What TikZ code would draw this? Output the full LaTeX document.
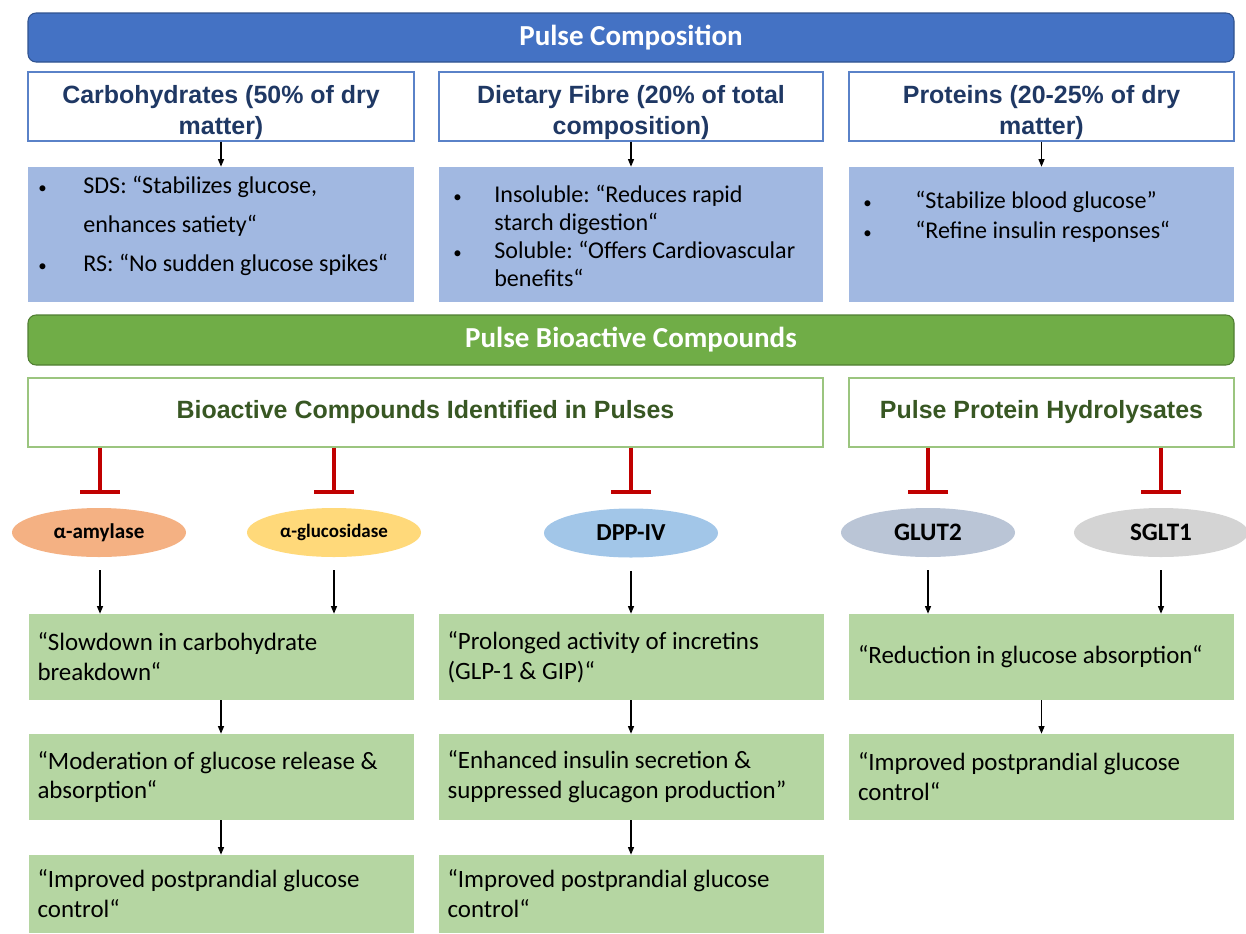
\documentclass[tikz,border=0pt]{standalone}
\usepackage{fontspec}
\setmainfont{Carlito}
\newfontfamily\arialf{Liberation Sans}
\usetikzlibrary{arrows.meta,shapes.geometric}
\frenchspacing
\newdimen\upx \upx=0.02cm
\definecolor{barblue}{HTML}{4472C4}
\definecolor{barbluedk}{HTML}{2F528F}
\definecolor{hdborder}{HTML}{5A82C8}
\definecolor{navy}{HTML}{1F3864}
\definecolor{lblue}{HTML}{A1B8E1}
\definecolor{bargreen}{HTML}{70AD47}
\definecolor{bargreendk}{HTML}{507E32}
\definecolor{gborder}{HTML}{9BC57F}
\definecolor{dgreen}{HTML}{385723}
\definecolor{lgreen}{HTML}{B5D6A2}
\definecolor{inhred}{HTML}{C00000}
\definecolor{amyc}{HTML}{F4B183}
\definecolor{gluc}{HTML}{FFD97A}
\definecolor{dppc}{HTML}{A2C6E8}
\definecolor{glutc}{HTML}{BAC5D6}
\definecolor{sgltc}{HTML}{D4D4D4}
\newcommand{\bul}[1]{\makebox[#1][l]{\scalebox{0.7}{\textbullet}}}
\newcommand{\hstrut}{\rule{0pt}{17pt}}
\begin{document}
\frenchspacing
\begin{tikzpicture}[x=0.02cm,y=-0.02cm,
  bigbar/.style={rounded corners=8\upx, line width=0.6pt, text=white,
    font=\fontsize{16.5}{20}\selectfont\bfseries,
    minimum width=1206\upx, inner sep=0},
  headbox/.style={draw=hdborder, line width=0.6pt, fill=white, minimum height=69\upx,
    align=center, text=navy, inner sep=0,
    font=\arialf\fontsize{14.2}{17.3}\selectfont\bfseries},
  bluebox/.style={fill=lblue, minimum height=135\upx, inner sep=0},
  bodytxt/.style={align=flush left, inner sep=0, text=black},
  ghead/.style={draw=gborder, line width=0.6pt, fill=white, minimum height=69\upx,
    text=dgreen, inner sep=0,
    font=\arialf\fontsize{14.2}{17}\selectfont\bfseries},
  greenbox/.style={fill=lgreen, align=flush left, text width=367\upx, inner xsep=9\upx,
    inner ysep=0, font=\fontsize{14.2}{17}\selectfont},
  enz/.style={ellipse, minimum width=174\upx, minimum height=49\upx, inner sep=0,
    font=\bfseries},
  arr/.style={line width=0.6pt, -{Triangle[length=1.5mm,width=1.2mm]}},
  inh/.style={draw=inhred, line width=2.3pt, -{Bar[width=0.8cm]}}
]
\useasboundingbox (0,0) rectangle (1246,933);

% ---- Pulse composition
\node[bigbar, fill=barblue, draw=barbluedk, minimum height=49\upx] (pc) at (631,37.5) {Pulse Composition};

\node[headbox, minimum width=386\upx] (carbH) at (221,106.5) {\hstrut Carbohydrates (50\% of dry\\matter)};
\node[headbox, minimum width=384\upx] (fibH) at (631,106.5) {\hstrut Dietary Fibre (20\% of total\\composition)};
\node[headbox, minimum width=385\upx] (protH) at (1041.5,106.5) {\hstrut Proteins (20-25\% of dry\\matter)};

\node[bluebox, minimum width=386\upx] (carbB) at (221,234.5) {};
\node[bluebox, minimum width=384\upx] (fibB) at (631,234.5) {};
\node[bluebox, minimum width=385\upx] (protB) at (1041.5,234.5) {};

\node[bodytxt, anchor=west, font=\fontsize{13.7}{22}\selectfont] (carbT) at (38,226)
  {\bul{45\upx}SDS: “Stabilizes glucose,\\\hspace*{45\upx}enhances satiety“\\\bul{45\upx}RS: “No sudden glucose spikes“};
\node[bodytxt, anchor=west, font=\fontsize{13.7}{16}\selectfont] (fibT) at (453,236)
  {\bul{41\upx}Insoluble: “Reduces rapid\\\hspace*{41\upx}starch digestion“\\\bul{41\upx}Soluble: “Offers Cardiovascular\\\hspace*{41\upx}benefits“};
\node[bodytxt, anchor=west, font=\fontsize{13.7}{17}\selectfont] (protT) at (863,217)
  {\bul{52\upx}“Stabilize blood glucose”\\\bul{52\upx}“Refine insulin responses“};

\draw[arr] (carbH.south) -- (carbB.north);
\draw[arr] (fibH.south) -- (fibB.north);
\draw[arr] (protH.south) -- (protB.north);

% ---- Bioactive compounds
\node[bigbar, fill=bargreen, draw=bargreendk, minimum height=50\upx] (pbc) at (631,340) {Pulse Bioactive Compounds};

\node[ghead, minimum width=795\upx] (bcH) at (425.5,412.5) {Bioactive Compounds Identified in Pulses};
\node[ghead, minimum width=385\upx] (pphH) at (1041.5,412.5) {Pulse Protein Hydrolysates};

\node[enz, fill=amyc, font=\bfseries\fontsize{12}{14}\selectfont] (amy) at (99,532.5) {α-amylase};
\node[enz, fill=gluc, font=\bfseries\fontsize{10.8}{13}\selectfont] (glu) at (334,532.5) {α-glucosidase};
\node[enz, fill=dppc, font=\bfseries\fontsize{13.9}{16}\selectfont] (dpp) at (631,533) {DPP-IV};
\node[enz, fill=glutc, font=\bfseries\fontsize{14.3}{16}\selectfont] (glut) at (928,532.5) {GLUT2};
\node[enz, fill=sgltc, font=\bfseries\fontsize{14.3}{16}\selectfont] (sglt) at (1161,532.5) {SGLT1};

\draw[inh] (bcH.south -| 100,0) -- ([yshift=14\upx]amy.north -| 100,0);
\draw[inh] (bcH.south -| glu) -- ([yshift=14\upx]glu.north);
\draw[inh] (bcH.south -| dpp) -- ([yshift=14\upx]dpp.north);
\draw[inh] (pphH.south -| glut) -- ([yshift=14\upx]glut.north);
\draw[inh] (pphH.south -| sglt) -- ([yshift=14\upx]sglt.north);

% green effect boxes
\node[greenbox, minimum height=86\upx] (L1) at (221,657) {“Slowdown in carbohydrate\\breakdown“};
\node[greenbox, minimum height=86\upx] (L2) at (221,777) {“Moderation of glucose release \&\\absorption“};
\node[greenbox, minimum height=78\upx] (L3) at (221,894) {“Improved postprandial glucose\\control“};
\node[greenbox, minimum height=86\upx] (M1) at (631,657) {“Prolonged activity of incretins\\(GLP-1 \& GIP)“};
\node[greenbox, minimum height=86\upx] (M2) at (631,777) {“Enhanced insulin secretion \&\\suppressed glucagon production”};
\node[greenbox, minimum height=78\upx] (M3) at (631,894) {“Improved postprandial glucose\\control“};
\node[greenbox, minimum height=86\upx] (R1) at (1041.5,657) {“Reduction in glucose absorption“};
\node[greenbox, minimum height=86\upx] (R2) at (1041.5,777) {“Improved postprandial glucose\\control“};

\draw[arr] ([yshift=-13\upx]amy.south -| 100,0) -- (L1.north -| 100,0);
\draw[arr] ([yshift=-13\upx]glu.south) -- (L1.north -| glu);
\draw[arr] ([yshift=-13\upx]dpp.south) -- (M1.north -| dpp);
\draw[arr] ([yshift=-13\upx]glut.south) -- (R1.north -| glut);
\draw[arr] ([yshift=-13\upx]sglt.south) -- (R1.north -| sglt);

\draw[arr] (L1.south) -- (L2.north);
\draw[arr] (L2.south) -- (L3.north);
\draw[arr] (M1.south) -- (M2.north);
\draw[arr] (M2.south) -- (M3.north);
\draw[arr] (R1.south) -- (R2.north);
\end{tikzpicture}
\end{document}
